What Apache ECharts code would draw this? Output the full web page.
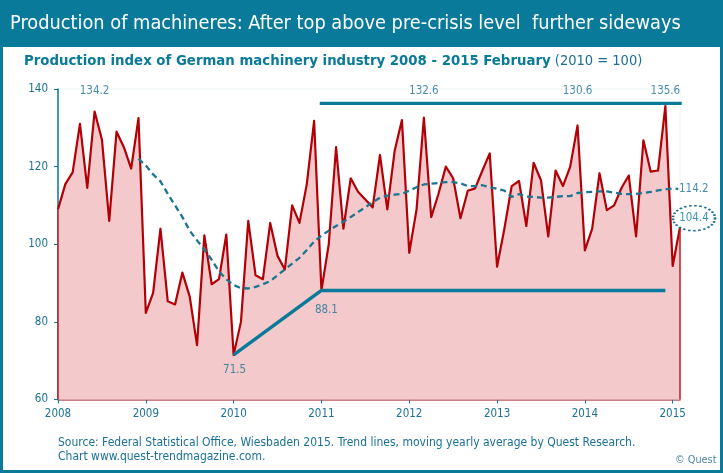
<!DOCTYPE html>
<html><head><meta charset="utf-8">
<style>html,body{margin:0;padding:0;background:#fff}#c{width:723px;height:473px}</style>
<script src="https://cdn.jsdelivr.net/npm/echarts@6/dist/echarts.min.js"></script></head>
<body><div id="c"></div>
<script>
const titleText = 'Production of machineres: After top above pre-crisis level  further sideways';
const subtitleBold = 'Production index of German machinery industry 2008 - 2015 February';
const subtitleNormal = '(2010 = 100)';
const sourceLine1 = 'Source: Federal Statistical Office, Wiesbaden 2015. Trend lines, moving yearly average by Quest Research.';
const sourceLine2 = 'Chart www.quest-trendmagazine.com.';
const copyrightText = '© Quest';
const years = [2008,2009,2010,2011,2012,2013,2014,2015];
const production = [
 109,115.5,118.5,131,114.5,134.2,127,106,129,125,119.5,132.5,
 82.3,87.5,104,85.3,84.5,92.7,86.5,74,102.3,89.7,91,102.5,
 71.5,80,106,92,91,105.5,97,93.5,110,105.5,115.5,131.8,
 88.1,100,125,104,117,113.5,111.5,109.5,123,109,124,132,
 97.8,109,132.6,107,113,120,117,106.7,113.8,114.4,119,123.4,
 94.2,104,115,116.3,104.7,121,116.5,102,119,115,120,130.6,
 98.4,104,118.3,108.8,110,114.5,117.7,102,126.8,118.7,119,135.6,
 94.4,104.4];
const trend = [
 null,null,null,null,null,null,null,null,null,null,null,122,
 120.3,118,116.2,113,110,107,103.5,101,98.6,96,93,91,
 89.5,88.7,88.6,89,89.7,90.5,92,93.5,95,96.5,98.5,100.7,
 102.2,103.5,104.7,105.8,107,108.3,109.5,110.8,112,112.5,112.8,113,
 113.8,114.7,115.4,115.6,115.8,116,116,115.7,115,115,115.2,114.7,
 114.3,113.8,112.2,112.9,112.3,112.2,112,112,112.2,112.4,112.4,113.2,
 113.4,113.5,113.6,113.6,113.3,113,112.9,113,113.2,113.5,113.9,114.1,
 114.4,114.2];
const lowTrend = [[24,71.5],[36,88.1],[83,88.1]];
const highTrend = [[36,136.3],[85,136.3]];
const peakLabels = [[5,134.2],[50,132.6],[71,130.6],[83,135.6]];
const lowLabels = [[24,71.5],[36,88.1]];
const lastTrend = [85,114.2];
const lastValue = [85,104.4];
const yTicks = {min:60,max:140,interval:20};

const months = production.map((_,i)=> years[Math.floor(i/12)]+'-'+String(i%12+1).padStart(2,'0'));
const FONT='"DejaVu Sans Condensed","DejaVu Sans",sans-serif';
const TEAL='#0a7a9a', TXT='#1a7196', RED='#b30006';
const pair=a=>a.map(p=>[months[p[0]],p[1]]);
const chart=echarts.init(document.getElementById('c'),null,{renderer:'canvas'});
chart.setOption({
 animation:false,
 grid:{left:58,right:43,top:89,bottom:73.5,show:true,borderColor:'#eef4f6',borderWidth:1,backgroundColor:'transparent'},
 xAxis:{type:'category',data:months,boundaryGap:false,
  axisLine:{lineStyle:{color:'#b9555f',width:1.5}},
  axisTick:{show:true,alignWithLabel:true,interval:11,length:4,lineStyle:{color:TEAL}},
  axisLabel:{interval:11,color:TXT,fontFamily:FONT,fontSize:11.5,margin:9,formatter:v=>v.slice(0,4)},
  splitLine:{show:false}},
 yAxis:{type:'value',min:yTicks.min,max:yTicks.max,interval:yTicks.interval,
  axisLine:{show:true,lineStyle:{color:TEAL,width:1.5}},
  axisTick:{show:true,length:4,lineStyle:{color:TEAL}},
  axisLabel:{color:TXT,fontFamily:FONT,fontSize:11.5,margin:10},
  splitLine:{show:false}},
 series:[
  {name:'Production',type:'line',data:production,symbol:'none',z:2,
   lineStyle:{color:RED,width:2.2,join:'round'},areaStyle:{color:'#f3c9cb',opacity:1,origin:'start'},
   markLine:{silent:true,symbol:'none',label:{show:false},lineStyle:{color:'#b82020',width:1.5,type:'solid'},
    data:[[{coord:[months[0],yTicks.min]},{coord:[months[0],production[0]]}],
          [{coord:[months[85],yTicks.min]},{coord:[months[85],production[85]]}]]}},
  {name:'Trend',type:'line',data:trend,symbol:'none',connectNulls:false,z:3,
   lineStyle:{color:'#1b7591',width:2.3,type:[6,4]}},
  {name:'Low',type:'line',data:pair(lowTrend),symbol:'none',z:4,lineStyle:{color:TEAL,width:3.4,cap:'butt'}},
  {name:'High',type:'line',data:pair(highTrend),symbol:'none',z:4,clip:false,lineStyle:{color:TEAL,width:3.4,cap:'square'}},
  {name:'Peaks',type:'scatter',data:pair(peakLabels),symbolSize:0,z:5,clip:false,
   label:{show:true,position:'top',distance:0,color:TXT,fontFamily:FONT,fontSize:11.5,
    formatter:p=>p.value[1].toFixed(1)},
   labelLayout:p=>({y:91,align:'center',verticalAlign:'middle'})},
  {name:'Lows',type:'scatter',data:pair(lowLabels),symbolSize:0,z:5,
   label:{show:true,position:'bottom',distance:9,color:TXT,fontFamily:FONT,fontSize:11.5,
    formatter:p=>p.value[1].toFixed(1)},
   labelLayout:p=>({dx:p.dataIndex==1?5:1,dy:p.dataIndex==1?5:0})},
  {name:'LastTrend',type:'scatter',data:pair([lastTrend]),symbolSize:0,z:5,clip:false,
   label:{show:true,position:'right',distance:-2,color:TXT,fontFamily:FONT,fontSize:11.5,
    backgroundColor:'#fff',padding:[0,0,0,1],formatter:p=>p.value[1].toFixed(1)}},
  {name:'LastValue',type:'scatter',data:pair([lastValue]),z:6,clip:false,symbol:'circle',symbolSize:[42,25],symbolOffset:[14,-9],
   itemStyle:{color:'#fff',opacity:1,borderColor:'#1b6f9a',borderWidth:2,borderType:[2,2]},
   label:{show:true,position:'inside',color:'#3b95b5',fontFamily:FONT,fontSize:11.5,
    formatter:p=>p.value[1].toFixed(1)}}
 ],
 graphic:[
  {type:'rect',shape:{x:0,y:0,width:723,height:47},style:{fill:TEAL}},
  {type:'rect',shape:{x:0,y:0,width:3,height:473},style:{fill:TEAL}},
  {type:'rect',shape:{x:720,y:0,width:3,height:473},style:{fill:TEAL}},
  {type:'rect',shape:{x:0,y:470,width:723,height:3},style:{fill:TEAL}},
  {type:'text',x:10,y:24,style:{text:titleText,fill:'#fff',font:'500 19.8px '+FONT,textVerticalAlign:'middle'}},
  {type:'text',x:24,y:61,style:{textVerticalAlign:'middle',
    text:'{b|'+subtitleBold+'}{n| '+subtitleNormal+'}',
    rich:{b:{fill:TEAL,font:'bold 14.8px '+FONT},n:{fill:TXT,font:'14.5px '+FONT}}}},
  {type:'text',x:58,y:443,style:{text:sourceLine1,fill:TXT,font:'12px '+FONT,textVerticalAlign:'middle'}},
  {type:'text',x:58,y:457,style:{text:sourceLine2,fill:TXT,font:'12px '+FONT,textVerticalAlign:'middle'}},
  {type:'text',x:675,y:460,style:{text:copyrightText,fill:'#4a86a0',font:'10.8px '+FONT,textVerticalAlign:'middle'}}
 ]
});
</script></body></html>
